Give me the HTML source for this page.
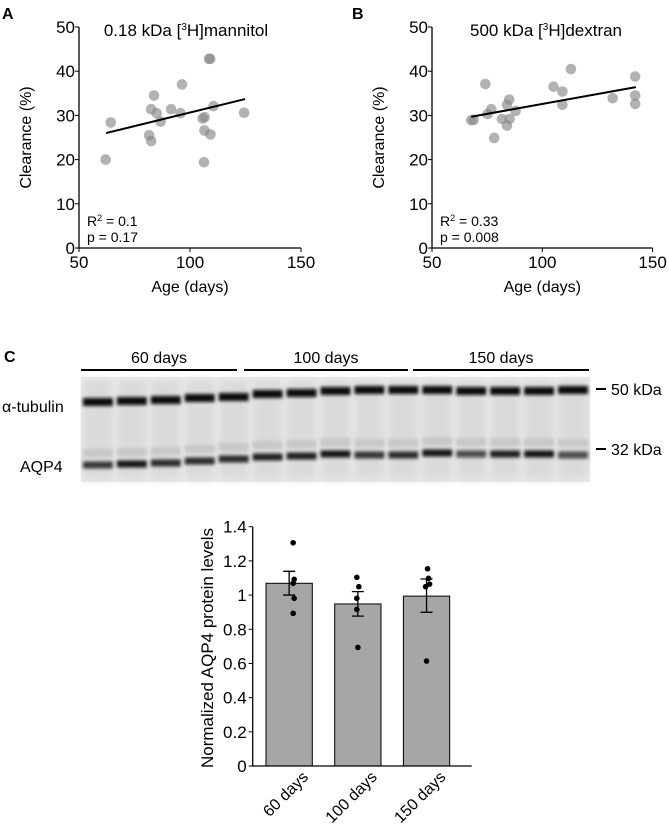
<!DOCTYPE html>
<html><head><meta charset="utf-8"><style>
html,body{margin:0;padding:0;background:#fff;}
svg{display:block;font-family:"Liberation Sans",Arial,sans-serif;}
</style></head><body>
<svg id="fig" width="669" height="827" viewBox="0 0 669 827">
<defs>
<filter id="blur" x="-10%" y="-100%" width="120%" height="300%"><feGaussianBlur stdDeviation="1.6"/></filter>
<filter id="blur2" x="-10%" y="-50%" width="120%" height="200%"><feGaussianBlur stdDeviation="4"/></filter>
</defs>
<g id="panelA"></g>
<g id="panelB"></g>
<g id="blot"></g>
<g id="bars"></g>
</svg>
<script>
const NS="http://www.w3.org/2000/svg";
function mk(parent,tag,attrs,text){const e=document.createElementNS(NS,tag);for(const k in attrs)e.setAttribute(k,attrs[k]);if(text!==undefined)e.textContent=text;parent.appendChild(e);return e;}

// ---- Panel A data ----
const agesA=[62,64.3,83.8,82.5,85,86.8,81.6,82.5,91.5,95.7,96.4,105.7,106.6,106.5,109.2,106.3,108.6,109.1,110.6,124.4];
const clearA=[20,28.4,34.5,31.4,30.5,28.6,25.5,24.2,31.4,30.5,37,29.3,29.6,26.6,25.7,19.4,42.8,42.8,32.1,30.6];
const fitA=[[62.2,26.0],[124.8,33.7]];
// ---- Panel B data ----
const agesB=[67.8,68.9,74.2,75.2,76.9,78.2,81.7,84,85,84,85.2,87.9,105.1,109.1,109.1,113,131.9,142.1,142.1,142.1];
const clearB=[28.9,29,37.1,30.3,31.4,24.9,29.2,32.4,33.6,27.7,29.2,31,36.5,35.4,32.4,40.5,33.9,38.8,34.5,32.6];
const fitB=[[67.8,29.7],[142.4,36.4]];
const xTicks=[50,100,150];
const yTicks=[0,10,20,30,40,50];

function scatter(g,opt,ages,clear,fit){
  const x=v=>opt.x0+(v-50)/100*opt.w, y=v=>opt.y0-v/50*opt.h;
  const letter=mk(g,'text',{x:opt.lx,y:19,'font-size':16,'font-weight':'bold'},opt.letter);
  
  
  const t=mk(g,'text',{x:opt.tx,y:36,'font-size':17,'text-anchor':'middle'});
  
  
  t.innerHTML=opt.title[0]+' [<tspan font-size="10" dy="-6">3</tspan><tspan dy="6">H]'+opt.title[1]+'</tspan>';
  const ax=mk(g,'path',{d:`M${opt.x0},${opt.y0-opt.h}V${opt.y0}H${opt.x0+opt.w}`,stroke:'#000','stroke-width':1.3,fill:'none'});
  
  
  yTicks.forEach(v=>{mk(g,'line',{x1:opt.x0-4,x2:opt.x0,y1:y(v),y2:y(v),stroke:'#000'});
    const l=mk(g,'text',{x:opt.x0-4,y:y(v)+6,'font-size':17,'text-anchor':'end'},v);
    
    });
  xTicks.forEach(v=>{mk(g,'line',{x1:x(v),x2:x(v),y1:opt.y0,y2:opt.y0+4,stroke:'#000'});
    const l=mk(g,'text',{x:x(v),y:opt.y0+20,'font-size':17,'text-anchor':'middle'},v);
    
    });
  const xt=mk(g,'text',{x:opt.x0+opt.w/2,y:opt.y0+44,'font-size':16,'text-anchor':'middle'},'Age (days)');
  
  
  const yt=mk(g,'text',{x:0,y:0,'font-size':16,'text-anchor':'middle',transform:`translate(${opt.x0-48},${opt.y0-opt.h/2}) rotate(-90)`},'Clearance (%)');
  
  
  ages.forEach((a,i)=>{const c=mk(g,'circle',{cx:x(a),cy:y(clear[i]),r:5.3,fill:'#888','fill-opacity':0.65});
    
    });
  const fl=mk(g,'line',{x1:x(fit[0][0]),y1:y(fit[0][1]),x2:x(fit[1][0]),y2:y(fit[1][1]),stroke:'#000','stroke-width':2});
  
  
  const r=mk(g,'text',{x:opt.x0+8,y:opt.y0-22,'font-size':14});
  r.innerHTML='R<tspan font-size="9" dy="-5">2</tspan><tspan dy="5"> = '+opt.r2+'</tspan>';
  
  
  const p=mk(g,'text',{x:opt.x0+8,y:opt.y0-6,'font-size':14},'p = '+opt.p);
  
  
}
scatter(document.getElementById('panelA'),{x0:79,y0:248,w:222,h:221,lx:2,letter:'A',tx:186,title:['0.18 kDa','mannitol'],r2:'0.1',p:'0.17'},agesA,clearA,fitA);
scatter(document.getElementById('panelB'),{x0:432,y0:248,w:220.6,h:221,lx:352,letter:'B',tx:546,title:['500 kDa','dextran'],r2:'0.33',p:'0.008'},agesB,clearB,fitB);

// ---- Western blot ----
const bl=document.getElementById('blot');
const groups=['60 days','100 days','150 days'];
const tubY=[402,401,400,398,397,394,393,391,390,390,390,391,391,391,390];
const aqpY=[465,464,463,461,459,457,456,454,455,455,453,454,454,454,455];
const aqpI=[0.8,0.95,0.85,0.85,0.85,0.9,0.9,0.95,0.8,0.85,0.95,0.7,0.9,0.95,0.7];
(function(){
  const c=mk(bl,'text',{x:4,y:362,'font-size':16,'font-weight':'bold'},'C');
  
  
  const segs=[[81,237],[244,408],[413,589]];
  segs.forEach((s,i)=>{mk(bl,'line',{x1:s[0],x2:s[1],y1:370,y2:370,stroke:'#000','stroke-width':2});
    const t=mk(bl,'text',{x:(s[0]+s[1])/2,y:363,'font-size':16,'text-anchor':'middle'},groups[i]);
    
    });
  const bg=mk(bl,'rect',{x:81,y:377,width:509,height:105,fill:'#ebebeb'});
  
  
  const lw=509/15;
  for(let i=0;i<15;i++){
    const x=81+i*lw+2;
    mk(bl,'rect',{x:x,y:380,width:lw-4,height:100,fill:'#dadada',filter:'url(#blur2)'});
    mk(bl,'rect',{x:x,y:aqpY[i]-16,width:lw-4,height:8,fill:'#c8c8c8',filter:'url(#blur)'});
    const tb=mk(bl,'rect',{x:x,y:tubY[i]-4,width:lw-4,height:8,fill:'#111',filter:'url(#blur)'});
    
    
    const ab=mk(bl,'rect',{x:x,y:aqpY[i]-3.5,width:lw-4,height:7,fill:'#111','fill-opacity':aqpI[i],filter:'url(#blur)'});
    
    
  }
  const l1=mk(bl,'text',{x:2,y:412,'font-size':16},'α-tubulin');
  
  
  const l2=mk(bl,'text',{x:20,y:472,'font-size':16},'AQP4');
  
  
  [[389,'50 kDa'],[449,'32 kDa']].forEach(m=>{mk(bl,'line',{x1:596,x2:606,y1:m[0],y2:m[0],stroke:'#000','stroke-width':2});
    const t=mk(bl,'text',{x:611,y:m[0]+6,'font-size':16},m[1]);
    
    });
})();

// ---- Bar chart ----
const barCats=['60 days','100 days','150 days'];
const barMeans=[1.069,0.948,0.994];
const errHi=[1.139,1.02,1.094];
const errLo=[1.0,0.877,0.899];
const dots60=[1.306,1.092,1.069,0.981,0.893];
const dots100=[1.104,1.049,0.981,0.916,0.694];
const dots150=[1.154,1.098,1.049,1.064,0.614];
const barTicks=[0,0.2,0.4,0.6,0.8,1,1.2,1.4];
(function(){
  const g=document.getElementById('bars');
  const x0=252.7,y0=766,h=239.3,xEnd=471.7;
  const y=v=>y0-v/1.4*h;
  const bx=i=>266+i*68.7, bw=46.3;
  const dots=[dots60,dots100,dots150];
  const dx=[[4,5,4,5,4],[-1,1,-1,-1,0],[1,2,-1,3,0]];
  barCats.forEach((c,i)=>{
    const r=mk(g,'rect',{x:bx(i),y:y(barMeans[i]),width:bw,height:y0-y(barMeans[i]),fill:'#a6a6a6',stroke:'#000','stroke-width':1});
    
    
    const cx=bx(i)+bw/2;
    const e=mk(g,'path',{d:`M${cx},${y(errHi[i])}V${y(errLo[i])}M${cx-6},${y(errHi[i])}H${cx+6}M${cx-6},${y(errLo[i])}H${cx+6}`,stroke:'#000','stroke-width':1.3,fill:'none'});
    
    
    dots[i].forEach((v,j)=>{const d=mk(g,'circle',{cx:cx+dx[i][j],cy:y(v),r:2.8,fill:'#000'});
      
      });
    const t=mk(g,'text',{x:0,y:0,'font-size':16,'text-anchor':'end',transform:`translate(${cx+20},${y0+12}) rotate(-45)`},c);
    
    
  });
  const ax=mk(g,'path',{d:`M${x0},${y(1.4)}V${y0}H${xEnd}`,stroke:'#000','stroke-width':1.3,fill:'none'});
  
  
  barTicks.forEach(v=>{mk(g,'line',{x1:x0-4,x2:x0,y1:y(v),y2:y(v),stroke:'#000'});
    const l=mk(g,'text',{x:x0-6,y:y(v)+6,'font-size':17,'text-anchor':'end'},String(v));
    
    });
  const yt=mk(g,'text',{x:0,y:0,'font-size':17,'text-anchor':'middle',transform:`translate(213,${y0-118}) rotate(-90)`},'Normalized AQP4 protein levels');
  
  
})();
</script>
</body></html>
